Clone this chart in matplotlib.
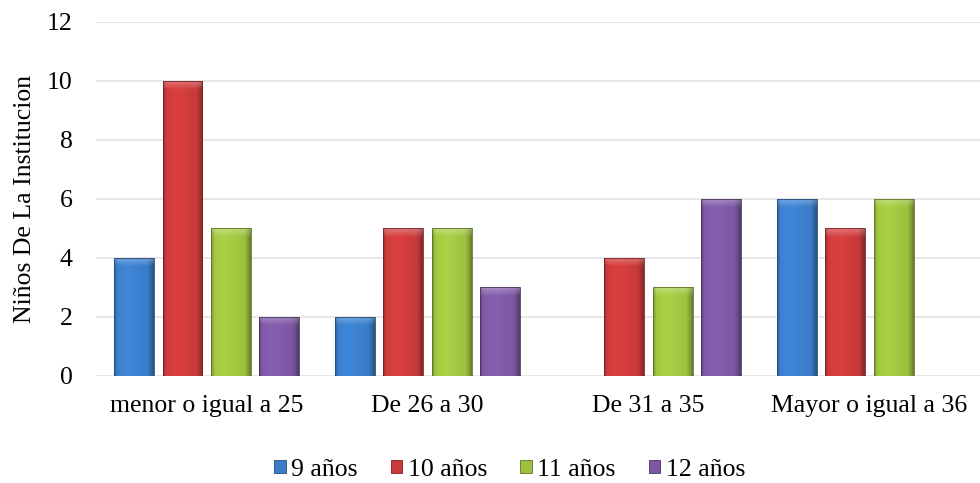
import numpy as np
import matplotlib
matplotlib.use("Agg")
import matplotlib.pyplot as plt
from matplotlib.colors import to_rgb
from matplotlib.patches import Rectangle

categories = ["menor o igual a 25", "De 26 a 30", "De 31 a 35", "Mayor o igual a 36"]
series_names = ["9 años", "10 años", "11 años", "12 años"]
nueve = [4, 2, 0, 6]
diez = [10, 5, 4, 5]
once = [5, 5, 3, 6]
doce = [2, 3, 6, 0]
yticks = [0, 2, 4, 6, 8, 10, 12]
colors = ["#3a7cc8", "#c93a3a", "#9cc13f", "#7c57a2"]

plt.rcParams["font.family"] = ["Liberation Serif", "DejaVu Serif"]
FS = 18.5

fig = plt.figure(figsize=(9.8, 4.83), dpi=100)
ax = fig.add_axes([0.098, 0.222, 0.902, 0.733])

x = np.arange(len(categories))
pitch = 0.2185
width = 0.18
series = [nueve, diez, once, doce]


def shaded_fill(ax, patch, color):
    """Paint a bevelled gradient over a bar patch."""
    x0, y0 = patch.get_x(), patch.get_y()
    w, h = patch.get_width(), patch.get_height()
    if h <= 0:
        return
    base = np.array(to_rgb(color))
    nx, ny = 60, 200
    u = np.linspace(0, 1, nx)
    # horizontal shading: light centre-left, darker right edge
    prof = 1.0 + 0.08 * np.exp(-((u - 0.35) / 0.3) ** 2) - 0.35 * np.clip((u - 0.82) / 0.18, 0, 1) ** 1.5 \
        - 0.25 * np.clip((0.08 - u) / 0.08, 0, 1)
    img = np.ones((ny, nx, 3)) * base
    img = img * prof[None, :, None]
    # top bevel highlight
    bevel = min(0.3 / h, 0.5)
    v = np.linspace(1, 0, ny)  # top row first
    top = np.clip((v - (1 - bevel)) / bevel, 0, 1)
    img = img + (1 - img) * (0.3 * top)[:, None, None]
    img = np.clip(img, 0, 1)
    im = ax.imshow(img, extent=[x0, x0 + w, y0, y0 + h], aspect="auto",
                   origin="upper", zorder=3, interpolation="bilinear")
    im.set_clip_path(patch)


for i, (vals, col, name) in enumerate(zip(series, colors, series_names)):
    offs = (i - 1.5) * pitch
    bars = ax.bar(x + offs, vals, width, color=col, label=name, zorder=2,
                  edgecolor=tuple(np.array(to_rgb(col)) * 0.6), linewidth=0.6)
    for b in bars:
        shaded_fill(ax, b, col)
        b.set_zorder(4)
        b.set_facecolor("none")

ax.set_xlim(-0.5, 3.5)
ax.set_ylim(0, 12)
ax.set_yticks(yticks)
ax.set_yticklabels([str(t) for t in yticks], fontsize=FS)
ax.set_xticks(x)
ax.set_xticklabels(categories, fontsize=FS)
ax.tick_params(length=0)
ax.tick_params(axis="x", pad=14)
ax.tick_params(axis="y", pad=17)
ax.grid(axis="y", color="#e3e3e3", linewidth=1.2, zorder=0)
for s in ax.spines.values():
    s.set_visible(False)
ax.set_ylabel("Niños De La Institucion", fontsize=FS, labelpad=8)
ax.set_facecolor("white")

handles = [Rectangle((0, 0), 1, 1, facecolor=c, edgecolor=tuple(np.array(to_rgb(c)) * 0.6), linewidth=0.6)
           for c in colors]
fig.legend(handles, series_names, loc="lower center", bbox_to_anchor=(0.52, -0.043), ncol=4,
           frameon=False, fontsize=FS, handlelength=0.45, handleheight=0.45, handletextpad=0.2,
           columnspacing=1.3)

fig.savefig("out.png", dpi=100, facecolor="white")
